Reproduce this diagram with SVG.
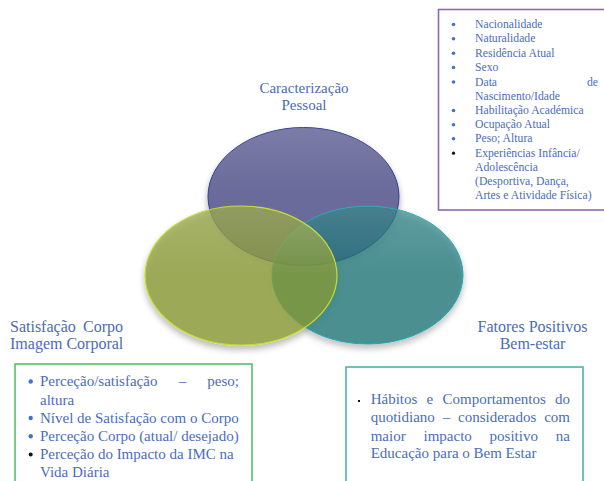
<svg xmlns="http://www.w3.org/2000/svg" width="604" height="481" viewBox="0 0 604 481">
<defs>
<filter id="sh" x="-20%" y="-20%" width="140%" height="150%">
<feDropShadow dx="0" dy="4" stdDeviation="3" flood-color="#000" flood-opacity="0.35"/>
</filter>
<linearGradient id="gloss" x1="0" y1="0" x2="0" y2="1">
<stop offset="0" stop-color="#fff" stop-opacity="0.12"/>
<stop offset="0.5" stop-color="#fff" stop-opacity="0"/>
</linearGradient>
</defs>
<style>
.ttl{font-family:"Liberation Serif","Times New Roman",serif;font-size:16px;fill:#4A6DB4}
.t15{font-family:"Liberation Serif","Times New Roman",serif;font-size:15px;fill:#4A6DBE}
.t12{font-family:"Liberation Serif","Times New Roman",serif;font-size:11.7px;fill:#4A6DBE}
.box{fill:#fff;stroke-width:1.6}
.bd{fill:#4472C4}
.bk{fill:#111}
</style>
<rect width="604" height="481" fill="#fff"/>
<g id="venn">
<g filter="url(#sh)">
<ellipse id="e-caract" cx="303.5" cy="196.5" rx="95.5" ry="69" fill="#6B6B9B" stroke="#2E3C8E" stroke-width="1"/>
<ellipse id="e-fatores" cx="367.5" cy="275" rx="95.5" ry="69" fill="#107072" fill-opacity="0.68" stroke="#1FA7B8" stroke-width="1"/>
<ellipse id="e-satisf" cx="241" cy="275.5" rx="96" ry="69.5" fill="#8A9B31" fill-opacity="0.74" stroke="#C6DC2A" stroke-width="1.2"/>
</g>
<ellipse cx="303.5" cy="196.5" rx="95.5" ry="69" fill="url(#gloss)"/>
<ellipse cx="367.5" cy="275" rx="95.5" ry="69" fill="url(#gloss)"/>
<ellipse cx="241" cy="275.5" rx="96" ry="69.5" fill="url(#gloss)"/>
</g>
<g id="title-caract">
<text class="ttl" style="font-size:15px" x="304" y="93" text-anchor="middle">Caracterização</text>
<text class="ttl" style="font-size:15px" x="304" y="110" text-anchor="middle">Pessoal</text>
</g>
<g id="title-satisf">
<text class="ttl" x="10" y="332">Satisfação</text>
<text class="ttl" x="123" y="332" text-anchor="end">Corpo</text>
<text class="ttl" x="10" y="349">Imagem Corporal</text>
</g>
<g id="title-fatores">
<text class="ttl" x="532.5" y="332" text-anchor="middle">Fatores Positivos</text>
<text class="ttl" x="532.5" y="349" text-anchor="middle">Bem-estar</text>
</g>
<g id="box-caract">
<rect class="box" x="438.5" y="9.5" width="180" height="200.5" stroke="#8E67B2"/>
<circle class="bd" cx="453.5" cy="24.5" r="1.8"/>
<circle class="bd" cx="453.5" cy="38.8" r="1.8"/>
<circle class="bd" cx="453.5" cy="53.2" r="1.8"/>
<circle class="bd" cx="453.5" cy="67.5" r="1.8"/>
<circle class="bd" cx="453.5" cy="82" r="1.8"/>
<circle class="bd" cx="453.5" cy="110.5" r="1.8"/>
<circle class="bd" cx="453.5" cy="124.8" r="1.8"/>
<circle class="bd" cx="453.5" cy="138.8" r="1.8"/>
<circle class="bk" cx="453.5" cy="153.2" r="1.6"/>
<text class="t12" x="475" y="28">Nacionalidade</text>
<text class="t12" x="475" y="42.3">Naturalidade</text>
<text class="t12" x="475" y="56.7">Residência Atual</text>
<text class="t12" x="475" y="71">Sexo</text>
<text class="t12" x="475" y="85.5">Data</text>
<text class="t12" x="598" y="85.5" text-anchor="end">de</text>
<text class="t12" x="475" y="99.7">Nascimento/Idade</text>
<text class="t12" x="475" y="114">Habilitação Académica</text>
<text class="t12" x="475" y="128.3">Ocupação Atual</text>
<text class="t12" x="475" y="142.3">Peso; Altura</text>
<text class="t12" x="475" y="156.7">Experiências Infância/</text>
<text class="t12" x="475" y="170.7">Adolescência</text>
<text class="t12" x="475" y="185">(Desportiva, Dança,</text>
<text class="t12" x="475" y="199">Artes e Atividade Física)</text>
</g>
<g id="box-satisf">
<rect class="box" x="15" y="364" width="237" height="130" stroke="#55C16A"/>
<circle class="bd" cx="30.7" cy="381.5" r="2.2"/>
<circle class="bd" cx="30.7" cy="418" r="2.2"/>
<circle class="bd" cx="30.7" cy="436.3" r="2.2"/>
<circle class="bk" cx="30.7" cy="454.5" r="2"/>
<text class="t15" x="40" y="386">Perceção/satisfação</text>
<text class="t15" x="178.7" y="386">–</text>
<text class="t15" x="239" y="386" text-anchor="end">peso;</text>
<text class="t15" x="40" y="404.5">altura</text>
<text class="t15" x="40" y="422.7">Nível de Satisfação com o Corpo</text>
<text class="t15" x="40" y="441">Perceção Corpo (atual/ desejado)</text>
<text class="t15" x="40" y="459">Perceção do Impacto da IMC na</text>
<text class="t15" x="40" y="476.5">Vida Diária</text>
</g>
<g id="box-fatores">
<rect class="box" x="346" y="367" width="237" height="130" stroke="#4BB3A8"/>
<rect class="bk" x="358" y="400" width="2" height="2"/>
<text class="t15" x="370.7" y="404">Hábitos</text>
<text class="t15" x="426.6" y="404">e</text>
<text class="t15" x="442.5" y="404">Comportamentos</text>
<text class="t15" x="570" y="404" text-anchor="end">do</text>
<text class="t15" x="370.7" y="422">quotidiano</text>
<text class="t15" x="442.7" y="422">–</text>
<text class="t15" x="458" y="422">considerados</text>
<text class="t15" x="570" y="422" text-anchor="end">com</text>
<text class="t15" x="370.7" y="440.5">maior</text>
<text class="t15" x="423.5" y="440.5">impacto</text>
<text class="t15" x="489.6" y="440.5">positivo</text>
<text class="t15" x="570" y="440.5" text-anchor="end">na</text>
<text class="t15" x="370.7" y="458">Educação para o Bem Estar</text>
</g>
</svg>
